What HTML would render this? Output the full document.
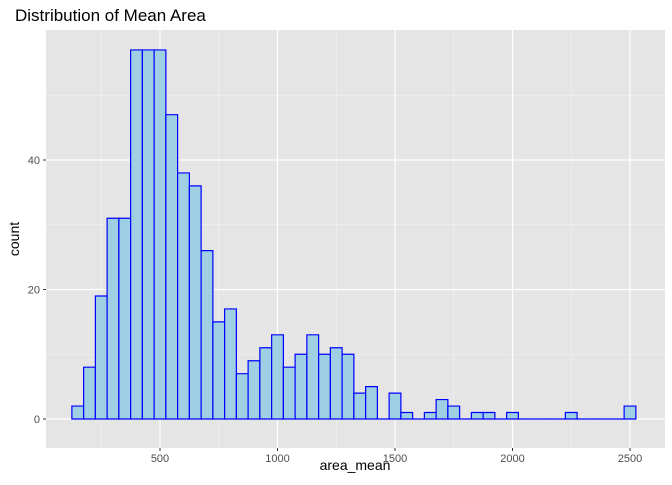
<!DOCTYPE html>
<html><head><meta charset="utf-8"><style>
body{margin:0;background:#fff;font-family:"Liberation Sans",sans-serif}
svg text{font-family:"Liberation Sans",sans-serif}
</style></head><body>
<svg id="chart" width="672" height="480" xmlns="http://www.w3.org/2000/svg">
<text x="15" y="21" font-size="17" fill="#000">Distribution of Mean Area</text>
<rect x="46" y="30" width="619" height="418" fill="#e5e5e5"/>
<g id="grid"></g><g id="bars"></g><g id="axes"></g>
<text x="355" y="470" font-size="14" text-anchor="middle">area_mean</text>
<text transform="translate(19,239) rotate(-90)" font-size="14" text-anchor="middle">count</text>
</svg>
<script>
const binStart = 125;
const binWidth = 50;
const counts = [2,8,19,31,31,57,57,57,47,38,36,26,15,17,7,9,11,13,8,10,13,10,11,10,4,5,0,4,1,0,1,3,2,0,1,1,0,1,0,0,0,0,1,0,0,0,0,2];
const xTicks = [500,1000,1500,2000,2500];
const xMinor = [250,750,1250,1750,2250];
const yTicks = [0,20,40];
const yMinor = [10,30,50];
const NS="http://www.w3.org/2000/svg";
const X = v => 160 + (v-500)*0.235;
const Y = v => 419 - v*6.475;
function mk(t,a,p){const e=document.createElementNS(NS,t);for(const k in a)e.setAttribute(k,a[k]);p.appendChild(e);return e;}
const grid=document.getElementById('grid'),bars=document.getElementById('bars'),axes=document.getElementById('axes');
xMinor.forEach(v=>{const l=mk('line',{x1:X(v),x2:X(v),y1:30,y2:448,stroke:'#f2f2f2','stroke-width':0.6},grid);

});
yMinor.forEach(v=>{const l=mk('line',{x1:46,x2:665,y1:Y(v),y2:Y(v),stroke:'#f2f2f2','stroke-width':0.6},grid);

});
xTicks.forEach(v=>{const l=mk('line',{x1:X(v),x2:X(v),y1:30,y2:448,stroke:'#fff','stroke-width':1.2},grid);


mk('line',{x1:X(v),x2:X(v),y1:448,y2:451,stroke:'#333','stroke-width':1},axes);
const t=mk('text',{x:X(v),y:462,'font-size':11,fill:'#4d4d4d','text-anchor':'middle'},axes);t.textContent=v;

});
yTicks.forEach(v=>{const l=mk('line',{x1:46,x2:665,y1:Y(v),y2:Y(v),stroke:'#fff','stroke-width':1.2},grid);


mk('line',{x1:43,x2:46,y1:Y(v),y2:Y(v),stroke:'#333','stroke-width':1},axes);
const t=mk('text',{x:40,y:Y(v)+4,'font-size':11,fill:'#4d4d4d','text-anchor':'end'},axes);t.textContent=v;

});
counts.forEach((c,i)=>{const x0=X(binStart+i*binWidth),x1=X(binStart+(i+1)*binWidth);
const y0=Y(0),y1=Y(c);
const r=mk('path',{d:`M${x0},${y0}L${x0},${y1}L${x1},${y1}L${x1},${y0}Z`,fill:'#9ecfe3',stroke:'#0000ff','stroke-width':1.2},bars);

});
</script>
</body></html>
